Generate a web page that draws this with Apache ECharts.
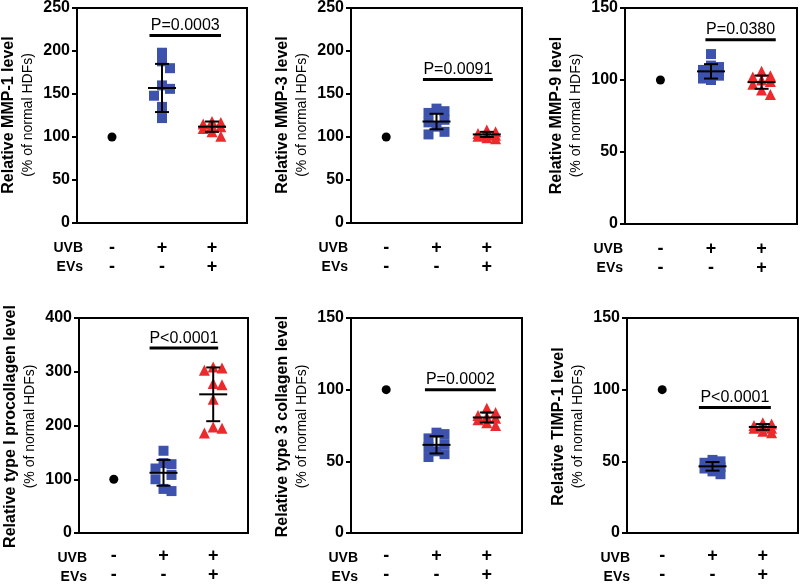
<!DOCTYPE html>
<html><head><meta charset="utf-8">
<script src="https://cdn.jsdelivr.net/npm/echarts@6/dist/echarts.min.js"></script>
<style>html,body{margin:0;padding:0;background:#fff}#c{width:800px;height:585px}</style>
</head><body><div id="c"></div>
<script>
// ---- data ----
const uvbRow = ['-', '+', '+'];
const evsRow = ['-', '-', '+'];
const rowNames = ['UVB', 'EVs'];
const titles = ['Relative MMP-1 level', 'Relative MMP-3 level', 'Relative MMP-9 level',
  'Relative type I procollagen level', 'Relative type 3 collagen level', 'Relative TIMP-1 level'];
const subtitle = '(% of normal HDFs)';
const yMax = [250, 250, 150, 400, 150, 150];
const yStep = [50, 50, 50, 100, 50, 50];

const controlValues = [100, 100, 100, 100, 100, 100];
const uvbValues = [
  [198, 188, 180, 160, 156, 148, 135, 122],
  [133, 130, 128, 120, 117, 112, 106, 103],
  [118, 110, 109, 107, 105, 103, 101, 100],
  [153, 130, 128, 120, 108, 100, 82, 78],
  [70, 69, 66, 62, 60, 57, 55, 53],
  [51, 50, 49, 47, 46, 45, 43, 41]
];
const uvbEvsValues = [
  [118, 117, 115, 113, 112, 110, 106, 101],
  [108, 106, 104, 103, 102, 101, 99, 98],
  [106, 103, 102, 100, 99, 97, 93, 90],
  [309, 307, 303, 278, 276, 249, 197, 195, 186],
  [87, 84, 82, 81, 80, 79, 77, 75],
  [77, 76, 75, 74, 73, 73, 71, 70]
];
const uvbMean = [157, 118, 106, 112, 61.5, 46.5];
const uvbSD = [28, 9, 5, 24, 6, 3];
const uvbEvsMean = [112, 103, 98.5, 258, 80.6, 74];
const uvbEvsSD = [6, 3, 4.6, 50, 3.5, 2];
const pTexts = ['P=0.0003', 'P=0.0091', 'P=0.0380', 'P<0.0001', 'P=0.0002', 'P<0.0001'];
const pBarY = [218, 167, 128, 344, 100, 87.5];
const pBarFrom = [1.75, 1.73, 1.89, 1.72, 1.77, 1.73];
const pBarTo = [3.18, 3.12, 3.28, 3.10, 3.18, 3.16];

// ---- layout ----
const gLeft = [77, 351, 625, 79, 351, 627];
const gTop = [7, 7, 7, 318, 318, 318];
const gWidth = [170, 171, 172, 169, 171, 171];
const gHeight = [216, 216, 217, 217, 217, 217];
const rowLabelRight = [83, 348, 623, 87, 358, 630];
const XMIN = 0.3, XMAX = 3.7;
const FONT = 'Liberation Sans, Arial, Helvetica, sans-serif';
const BLUE = '#3d52ad', RED = '#ec2a2e';

// simple beeswarm: offsets limited to centre / one step either side
function swarm(values, gx, pxPerY, pxPerX, size) {
  const placed = [];
  const out = [];
  const step = size * 0.8;
  const cands = [0, 1, -1];
  values.forEach(v => {
    const py = v * pxPerY;
    let best = 0, bestD = -1;
    for (const k of cands) {
      const px = k * step;
      let minD = Infinity;
      placed.forEach(p => {
        const d = Math.max(Math.abs(p[0] - px), Math.abs(p[1] - py));
        if (d < minD) minD = d;
      });
      if (minD >= size * 0.9) { best = px; bestD = minD; break; }
      if (minD > bestD) { bestD = minD; best = px; }
    }
    placed.push([best, py]);
    out.push([gx + best / pxPerX, v]);
  });
  return out;
}

const grid = [], xAxis = [], yAxis = [], series = [], graphic = [];
for (let i = 0; i < 6; i++) {
  grid.push({left: gLeft[i], top: gTop[i], width: gWidth[i], height: gHeight[i],
    show: true, borderColor: '#000', borderWidth: 2, backgroundColor: 'transparent'});
  const bottomRow = i >= 3;
  xAxis.push({gridIndex: i, type: 'value', min: XMIN, max: XMAX,
    axisLine: {show: true, lineStyle: {color: '#000', width: 2}},
    axisTick: {show: false}, splitLine: {show: false},
    axisLabel: {customValues: [1, 2, 3], margin: bottomRow ? 14 : 16, color: '#000',
      fontFamily: FONT, fontWeight: 'bold', fontSize: 18, lineHeight: 19,
      formatter: v => uvbRow[Math.round(v) - 1] + '\n' + evsRow[Math.round(v) - 1]}});
  yAxis.push({gridIndex: i, type: 'value', min: 0, max: yMax[i], interval: yStep[i],
    axisLine: {show: true, lineStyle: {color: '#000', width: 2}},
    axisTick: {show: true, length: 5, lineStyle: {color: '#000', width: 2}},
    splitLine: {show: false},
    axisLabel: {color: '#000', fontFamily: FONT, fontWeight: 'bold', fontSize: 16, margin: 7}});

  const pxPerY = gHeight[i] / yMax[i];
  const pxPerX = gWidth[i] / (XMAX - XMIN);
  series.push({type: 'scatter', xAxisIndex: i, yAxisIndex: i, symbol: 'circle', symbolSize: 9,
    itemStyle: {color: '#000', opacity: 1}, data: [[1, controlValues[i]]], z: 2});
  series.push({type: 'scatter', xAxisIndex: i, yAxisIndex: i, symbol: 'rect', symbolSize: 10,
    itemStyle: {color: BLUE, opacity: 1}, data: swarm(uvbValues[i], 2, pxPerY, pxPerX, 10), z: 2});
  series.push({type: 'scatter', xAxisIndex: i, yAxisIndex: i, symbol: 'triangle', symbolSize: 11,
    itemStyle: {color: RED, opacity: 1}, data: swarm(uvbEvsValues[i], 3, pxPerY, pxPerX, 11), z: 2});
  series.push({type: 'custom', xAxisIndex: i, yAxisIndex: i, z: 5,
    data: [[2, uvbMean[i], uvbSD[i]], [3, uvbEvsMean[i], uvbEvsSD[i]]],
    encode: {x: 0, y: 1},
    renderItem: (params, api) => {
      const x = api.value(0), m = api.value(1), s = api.value(2);
      const c = api.coord([x, m]), t = api.coord([x, m + s]), b = api.coord([x, m - s]);
      const st = {stroke: '#000', lineWidth: 2};
      return {type: 'group', children: [
        {type: 'line', shape: {x1: c[0] - 14, y1: c[1], x2: c[0] + 14, y2: c[1]}, style: st},
        {type: 'line', shape: {x1: c[0], y1: t[1], x2: c[0], y2: b[1]}, style: st},
        {type: 'line', shape: {x1: c[0] - 7, y1: t[1], x2: c[0] + 7, y2: t[1]}, style: st},
        {type: 'line', shape: {x1: c[0] - 7, y1: b[1], x2: c[0] + 7, y2: b[1]}, style: st}
      ]};
    }});
  series.push({type: 'custom', xAxisIndex: i, yAxisIndex: i, z: 5,
    data: [[pBarFrom[i], pBarTo[i], pBarY[i], i]],
    encode: {x: [0, 1], y: 2},
    renderItem: (params, api) => {
      const a = api.coord([api.value(0), api.value(2)]);
      const b = api.coord([api.value(1), api.value(2)]);
      const idx = api.value(3);
      return {type: 'group', children: [
        {type: 'line', shape: {x1: a[0], y1: a[1], x2: b[0], y2: b[1]}, style: {stroke: '#000', lineWidth: 3}},
        {type: 'text', x: (a[0] + b[0]) / 2, y: a[1] - 10,
          style: {text: pTexts[idx], textAlign: 'center', textVerticalAlign: 'middle',
            font: '16px ' + FONT, fill: '#000'}}
      ]};
    }});

  const cy = gTop[i] + gHeight[i] / 2;
  graphic.push({type: 'text', x: gLeft[i] - 68, y: cy, rotation: Math.PI / 2,
    style: {text: titles[i], textAlign: 'center', textVerticalAlign: 'middle',
      font: 'bold 16px ' + FONT, fill: '#000'}});
  graphic.push({type: 'text', x: gLeft[i] - 49, y: cy, rotation: Math.PI / 2,
    style: {text: subtitle, textAlign: 'center', textVerticalAlign: 'middle',
      font: '14px ' + FONT, fill: '#000'}});
  const by = gTop[i] + gHeight[i];
  const off = bottomRow ? 23 : 25;
  rowNames.forEach((nm, r) => {
    graphic.push({type: 'text', x: rowLabelRight[i], y: by + off + r * 19,
      style: {text: nm, textAlign: 'right', textVerticalAlign: 'middle',
        font: 'bold 14px ' + FONT, fill: '#000'}});
  });
}

const chart = echarts.init(document.getElementById('c'), null, {renderer: 'canvas'});
chart.setOption({animation: false, backgroundColor: '#fff', grid, xAxis, yAxis, series, graphic});
</script>
</body></html>
